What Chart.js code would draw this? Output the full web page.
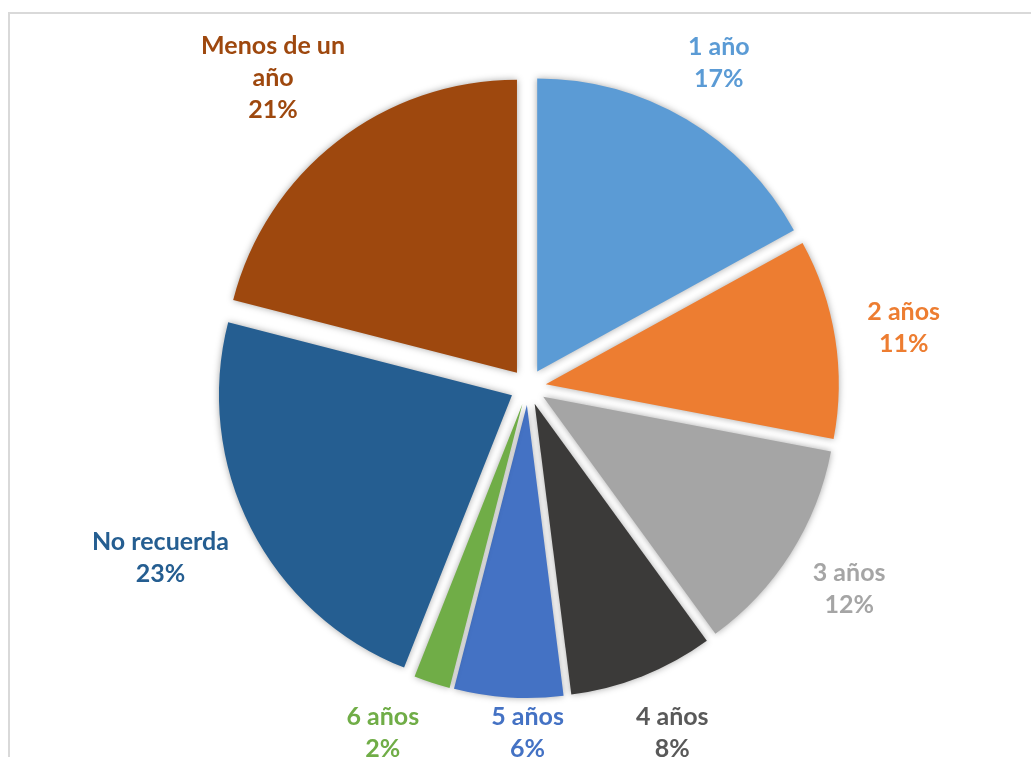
<!DOCTYPE html>
<html>
<head>
<meta charset="utf-8">
<script src="https://cdn.jsdelivr.net/npm/chart.js@4"></script>
<style>
  html, body { margin: 0; padding: 0; background: #fff; overflow: hidden; }
  #frame { position: absolute; left: 8px; top: 12px; width: 1100px; height: 800px; border: 2px solid #D9D9D9; box-sizing: border-box; }
  #chart { position: absolute; left: 0; top: 0; }
</style>
</head>
<body>
<div id="frame"></div>
<canvas id="chart" width="1031" height="757"></canvas>
<script>
// data (percent of answers)
const categories = ['1 año', '2 años', '3 años', '4 años', '5 años', '6 años', 'No recuerda', 'Menos de un año'];
const values = [17, 11, 12, 8, 6, 2, 23, 21];
const sliceColors = ['#5B9BD5', '#ED7D31', '#A5A5A5', '#3B3A39', '#4472C4', '#70AD47', '#255E91', '#9E480E'];
const labelColors = ['#5B9BD5', '#ED7D31', '#A5A5A5', '#595959', '#4472C4', '#70AD47', '#255E91', '#9E480E'];

const EXPLODE = 18;     // how far each slice is pulled out
const LABEL_GAP = 33;   // space between slice and its label
const LINE_H = 32;
const FONT = 'bold 25px Lato';

function wrap(ctx, text, maxW) {
    const words = text.split(' ');
    const lines = [];
    let cur = '';
    words.forEach(w => {
        const test = cur ? cur + ' ' + w : w;
        if (cur && ctx.measureText(test).width > maxW) {
            lines.push(cur);
            cur = w;
        } else {
            cur = test;
        }
    });
    if (cur) lines.push(cur);
    return lines;
}

// draw exploded slices with a soft shadow
const explodePlugin = {
    id: 'explode',
    beforeDatasetDraw(chart, args) {
        const ctx = chart.ctx;
        args.meta.data.forEach(arc => {
            const mid = (arc.startAngle + arc.endAngle) / 2;
            ctx.save();
            ctx.translate(Math.cos(mid) * EXPLODE, Math.sin(mid) * EXPLODE);
            ctx.shadowColor = 'rgba(0,0,0,0.35)';
            ctx.shadowBlur = 7;
            arc.draw(ctx);
            ctx.restore();
        });
        return false;
    }
};

// category + percent labels outside the slices
const labelPlugin = {
    id: 'outsideLabels',
    afterDatasetsDraw(chart) {
        const ctx = chart.ctx;
        const meta = chart.getDatasetMeta(0);
        const total = values.reduce((a, b) => a + b, 0);
        ctx.save();
        ctx.font = FONT;
        ctx.textAlign = 'center';
        ctx.textBaseline = 'middle';

        const boxes = meta.data.map((arc, i) => {
            const mid = (arc.startAngle + arc.endAngle) / 2;
            const dx = Math.cos(mid), dy = Math.sin(mid);
            const lines = wrap(ctx, categories[i], 150);
            lines.push(Math.round(values[i] / total * 100) + '%');
            const w = Math.max(...lines.map(l => ctx.measureText(l).width));
            const h = lines.length * LINE_H;
            const d = arc.outerRadius + EXPLODE + LABEL_GAP;
            let x = arc.x + dx * d + dx * w / 2;
            let y = arc.y + dy * d + dy * h / 2;
            let bottom = false;
            const maxY = chart.height + 8 - h / 2;
            if (y > maxY) { y = maxY; bottom = true; }
            y = Math.max(y, 30 + h / 2);
            return { i, lines, w, h, x, y, bottom };
        });

        // spread labels that got pushed against the bottom edge
        const row = boxes.filter(b => b.bottom).sort((a, b) => a.x - b.x);
        for (let k = 0; k < 5; k++) {
            for (let j = 0; j < row.length - 1; j++) {
                const a = row[j], b = row[j + 1];
                const minSep = (a.w + b.w) / 2 + 72;
                const deficit = minSep - (b.x - a.x);
                if (deficit > 0) {
                    a.x -= deficit / 2;
                    b.x += deficit / 2;
                }
            }
        }

        boxes.forEach(b => {
            ctx.fillStyle = labelColors[b.i];
            const top = b.y - b.h / 2 + LINE_H / 2;
            b.lines.forEach((l, n) => ctx.fillText(l, b.x, top + n * LINE_H));
        });
        ctx.restore();
    }
};

function draw() {
    const ctx = document.getElementById('chart').getContext('2d');
    new Chart(ctx, {
        type: 'pie',
        data: {
            labels: categories,
            datasets: [{
                data: values,
                backgroundColor: sliceColors,
                borderWidth: 0,
                radius: 293
            }]
        },
        options: {
            responsive: false,
            animation: false,
            devicePixelRatio: 1,
            layout: { padding: { left: 25, top: 17 } },
            plugins: {
                legend: { display: false },
                tooltip: { enabled: false }
            }
        },
        plugins: [explodePlugin, labelPlugin]
    });
}

document.fonts.load(FONT).then(draw, draw);
</script>
</body>
</html>
